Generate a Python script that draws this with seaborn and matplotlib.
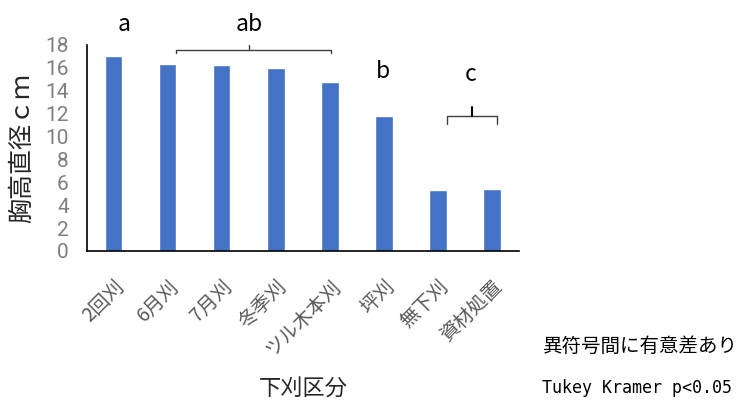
import matplotlib
matplotlib.use('Agg')
import matplotlib.pyplot as plt
import seaborn as sns
import pandas as pd

# 下刈区分ごとの胸高直径
categories = ['2回刈', '6月刈', '7月刈', '冬季刈', 'ツル木本刈', '坪刈', '無下刈', '資材処置']
dbh = [17.0, 16.35, 16.2, 15.95, 14.75, 11.75, 5.3, 5.45]
letters = ['a', 'ab', 'b', 'c']

sns.set_style("white")
plt.rcParams['font.family'] = ['Noto Sans CJK JP', 'DejaVu Sans']

df = pd.DataFrame({'cat': categories, 'val': dbh})

fig = plt.figure(figsize=(7.36, 4.08), dpi=100)
ax = fig.add_axes([0.118, 0.385, 0.587, 0.505])
sns.barplot(data=df, x='cat', y='val', color='#4472C4', width=0.32,
            saturation=1, ax=ax)

ax.set_ylim(0, 18)
ax.set_xlim(-0.5, len(categories) - 0.5)
ax.set_yticks(range(0, 19, 2))
ax.tick_params(axis='y', labelsize=15, colors='#7f7f7f', length=0, pad=13)
ax.tick_params(axis='x', labelsize=14, colors='#595959', length=0, pad=18)
plt.setp(ax.get_xticklabels(), rotation=45, ha='right', rotation_mode='anchor')
for lbl in ax.get_yticklabels():
    lbl.set_color('#7f7f7f')
    lbl.set_family(['Roboto', 'DejaVu Sans'])

sns.despine(ax=ax, top=True, right=True)
ax.spines['left'].set_color('black')
ax.spines['bottom'].set_color('black')
ax.spines['left'].set_linewidth(1.2)
ax.spines['bottom'].set_linewidth(1.2)

ax.set_ylabel('胸高直径ｃｍ', fontsize=18, labelpad=0)
ax.set_xlabel('下刈区分', fontsize=16, labelpad=12)
ax.yaxis.set_label_coords(-0.12, 0.5)

# 有意差の記号と括弧
kw = dict(ha='center', va='center', fontsize=16.5, color='black', clip_on=False)
ax.text(0.19, 19.75, letters[0], **kw)
ax.text(2.5, 19.75, letters[1], **kw)
ax.text(4.98, 15.65, letters[2], **kw)
ax.text(6.6, 15.4, letters[3], **kw)

bcol = '#404040'
ax.plot([1.15, 1.15, 4.02, 4.02], [17.3, 17.57, 17.57, 17.3], color=bcol, lw=1, clip_on=False)
ax.plot([2.5, 2.5], [17.57, 17.95], color=bcol, lw=1, clip_on=False)
ax.plot([6.17, 6.17, 7.09, 7.09], [11.1, 11.8, 11.8, 11.1], color=bcol, lw=1, clip_on=False)
ax.plot([6.63, 6.63], [11.8, 12.6], color='black', lw=1.5, clip_on=False)

fig.text(0.737, 0.15, '異符号間に有意差あり', fontsize=14, color='black', va='center')
fig.text(0.737, 0.049, 'Tukey Kramer p<0.05', fontsize=12, color='black', va='center',
         family=['DejaVu Sans Mono'])

fig.savefig('out.png', dpi=100)
